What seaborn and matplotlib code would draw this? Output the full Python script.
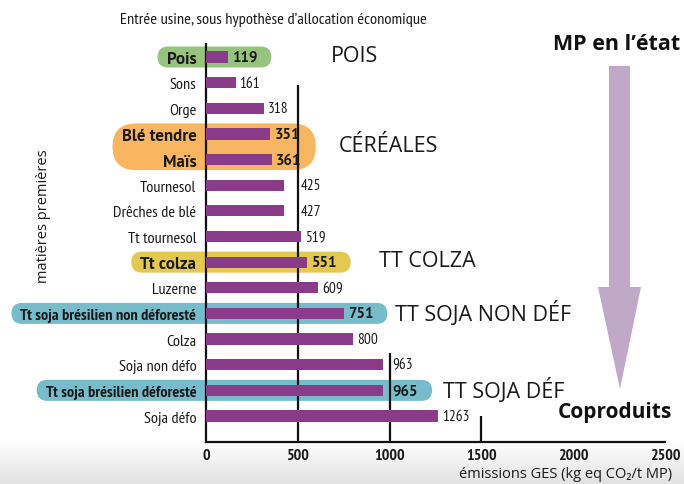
import numpy as np
import pandas as pd
import matplotlib
matplotlib.use("Agg")
import matplotlib.pyplot as plt
import seaborn as sns
from matplotlib import font_manager as fm
from matplotlib.patches import FancyBboxPatch, Polygon

# ---------------- data ----------------
categories = ["Pois", "Sons", "Orge", "Blé tendre", "Maïs", "Tournesol",
              "Drêches de blé", "Tt tournesol", "Tt colza", "Luzerne",
              "Tt soja brésilien non déforesté", "Colza", "Soja non défo",
              "Tt soja brésilien déforesté", "Soja défo"]
values = [119, 161, 318, 351, 361, 425, 427, 519, 551, 609, 751, 800, 963, 965, 1263]

group_names = ["POIS", "CÉRÉALES", "TT COLZA", "TT SOJA NON DÉF", "TT SOJA DÉF"]
group_members = [["Pois"], ["Blé tendre", "Maïs"], ["Tt colza"],
                 ["Tt soja brésilien non déforesté"], ["Tt soja brésilien déforesté"]]
group_colors = ["#97c47c", "#f8b660", "#e4c951", "#77bccb", "#77bccb"]
group_text_x = [680, 722, 943, 1029, 1293]

x_ticks = [0, 500, 1000, 1500, 2000, 2500]
ref_lines = [500, 1000, 1500]
ref_line_start = [1.1, 11.55, 14.0]

title = "Entrée usine, sous hypothèse d’allocation économique"
ylabel = "matières premières"
xlabel = "émissions GES (kg eq CO₂/t MP)"

bar_color = "#8a3c8a"
arrow_color = "#bfa8c8"
text_color = "#1a1a1a"

# ---------------- fonts ----------------
sns.set_style("white")
flist = fm.fontManager.ttflist
def weights(name):
    out = set()
    for f in flist:
        if f.name == name:
            w = f.weight
            if isinstance(w, str):
                w = {"bold": 700, "normal": 400, "regular": 400}.get(w, 400)
            out.add(int(w))
    return out

def pick(cands, need_regular=True):
    for c in cands:
        ws = weights(c)
        if ws and any(w >= 600 for w in ws) and (not need_regular or any(w <= 450 for w in ws)):
            return c
    return next((c for c in cands if weights(c)), "DejaVu Sans")

narrow = pick(["PT Sans Narrow", "Fira Sans Condensed", "Roboto Condensed",
               "Asap Condensed", "Encode Sans Condensed", "Barlow Semi Condensed",
               "Archivo Narrow", "Liberation Sans Narrow"])
bold_wide = pick(["PT Sans", "Fira Sans", "Source Sans 3", "Source Sans Pro", "Lato"],
                 need_regular=False)
cond_kw = dict(family=[narrow, "DejaVu Sans"])
boldw_kw = dict(family=[bold_wide, "DejaVu Sans"], fontweight="bold")
wide_family = ["Open Sans", "DejaVu Sans"]
plt.rcParams["font.family"] = cond_kw["family"]

# ---------------- figure ----------------
W, H = 684, 485
fig = plt.figure(figsize=(W / 100, H / 100), dpi=100)
fig.patch.set_facecolor("white")

gax = fig.add_axes([0, 0, 1, 0.09], zorder=-10)
grad = np.linspace(0, 1, 50)[:, None]
gax.imshow(grad, aspect="auto", cmap=matplotlib.colors.LinearSegmentedColormap.from_list(
    "g", ["#e2e2e2", "#ffffff"]), origin="lower", extent=[0, 1, 0, 1])
gax.axis("off")

ax = fig.add_axes([206 / W, 1 - 443 / H, 459 / W, 398 / H])
ax.set_facecolor("none")

df = pd.DataFrame({"cat": categories, "val": values})
sns.barplot(data=df, x="val", y="cat", orient="h", color=bar_color, saturation=1,
            width=0.44, ax=ax, zorder=3, linewidth=0, edgecolor="none")

n = len(categories)
ax.set_xlim(0, 2500)
ax.set_ylim(n + 0.014, -0.507)
ax.set_xticks(x_ticks)
ax.set_xticklabels([str(t) for t in x_ticks])
ax.set_xlabel("")
ax.set_ylabel("")
for s in ["top", "right"]:
    ax.spines[s].set_visible(False)
for s in ["left", "bottom"]:
    ax.spines[s].set_color("#111111")
    ax.spines[s].set_linewidth(1.6)
ax.tick_params(axis="x", direction="in", length=4, width=1.3, color="#111111",
               pad=4, labelsize=11.5, labelcolor=text_color)
ax.tick_params(axis="y", length=0, pad=7, labelsize=11.7, labelcolor=text_color)

highlighted = {m for g in group_members for m in g}
for lab in ax.get_yticklabels():
    lab.set(**cond_kw)
    if lab.get_text() in highlighted:
        if len(lab.get_text()) <= 12:
            lab.set(**boldw_kw)
            lab.set_fontsize(12.2)
        else:
            lab.set_fontweight("bold")
for lab in ax.get_xticklabels():
    lab.set(**cond_kw)
    lab.set_fontweight("semibold")

for xv, ys in zip(ref_lines, ref_line_start):
    ax.vlines(xv, ys, n + 0.014, color="#111111", lw=1.6, zorder=2)

fig.canvas.draw()
renderer = fig.canvas.get_renderer()
val_texts = []
for i, (c, v) in enumerate(zip(categories, values)):
    kw = dict(boldw_kw, fontsize=10.8) if c in highlighted else dict(cond_kw, fontsize=11)
    t = ax.annotate(str(v), xy=(v, i), xytext=(4, 0), textcoords="offset pixels",
                    va="center", ha="left", color=text_color, zorder=4, **kw)
    bb = t.get_window_extent(renderer)
    for xv, ys in zip(ref_lines, ref_line_start):
        if i >= ys:
            lx = ax.transData.transform((xv, i))[0]
            if bb.x0 < lx + 2 and bb.x1 > lx + 3 and (lx - bb.x0) < 0.8 * bb.width:
                shift = lx + 3 - ax.transData.transform((v, i))[0]
                t.xyann = (shift, 0)
                break
    val_texts.append(t)

fig.canvas.draw()
renderer = fig.canvas.get_renderer()
ticklabels = {lab.get_text(): lab for lab in ax.get_yticklabels()}

for gname, members, col, tx in zip(group_names, group_members, group_colors, group_text_x):
    idx = [categories.index(m) for m in members]
    lbbs = [ticklabels[m].get_window_extent(renderer) for m in members]
    vbbs = [val_texts[i].get_window_extent(renderer) for i in idx]
    left = min(b.x0 for b in lbbs) - 9
    right = max(b.x1 for b in vbbs) + 14
    ys = [ax.transData.transform((0, i))[1] for i in idx]
    top = max(ys) + 10.5
    bot = min(ys) - 10.5
    h = top - bot
    pill = FancyBboxPatch((left + h / 2, bot + h / 2), right - left - h, 0.01,
                          boxstyle=f"round,pad={h / 2 - 0.01},rounding_size={h / 2}",
                          transform=None, facecolor=col, edgecolor="none",
                          zorder=0.2, clip_on=False)
    ax.add_patch(pill)
    ax.text(tx, np.mean(idx) - 0.05, gname, fontsize=15.5, color=text_color,
            va="center", ha="left", family=wide_family, zorder=4)

pts = [(609, 67), (630, 67), (630, 288), (641, 288), (620, 390), (598, 288), (609, 288)]
arrow = Polygon([(x / W, 1 - y / H) for x, y in pts], closed=True,
                transform=fig.transFigure, facecolor=arrow_color, edgecolor="none")
fig.patches.append(arrow)

fig.text(680 / W, 1 - 45 / H, "MP en l’état", ha="right", va="center",
         fontsize=15.5, fontweight="bold", color="#111111", family=wide_family)
fig.text(672 / W, 1 - 413 / H, "Coproduits", ha="right", va="center",
         fontsize=15, fontweight="bold", color="#111111", family=wide_family)

fig.text(273 / W, 1 - 20 / H, title, ha="center", va="center", fontsize=11.8,
         color=text_color, **cond_kw)
fig.text(44 / W, 1 - 216 / H, ylabel, rotation=90, ha="center", va="center",
         fontsize=10.5, color=text_color, family=wide_family)
fig.text(672 / W, 1 - 475 / H, xlabel, ha="right", va="center", fontsize=10.5,
         color=text_color, family=wide_family)

fig.savefig("out.png", dpi=100)
